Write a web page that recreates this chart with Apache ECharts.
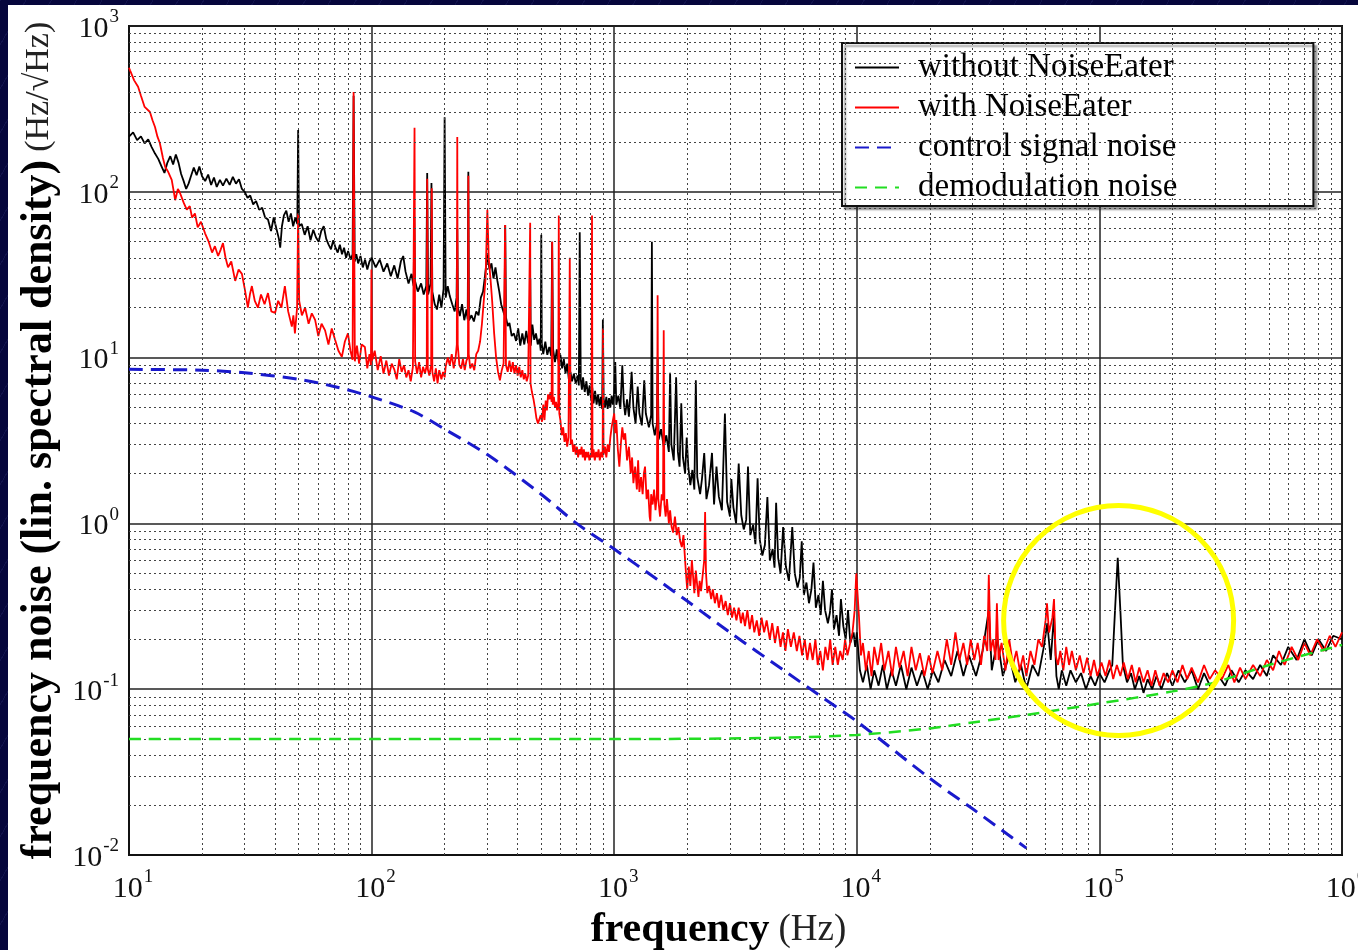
<!DOCTYPE html>
<html>
<head>
<meta charset="utf-8">
<title>Frequency noise spectrum</title>
<script src="https://cdn.jsdelivr.net/npm/echarts@6/dist/echarts.min.js"></script>
<style>
  html, body { margin: 0; padding: 0; }
  body {
    width: 1358px; height: 950px; overflow: hidden; position: relative;
    background-color: #06063c;
    background-image: repeating-linear-gradient(120deg, rgba(120,130,220,0.10) 0px, rgba(120,130,220,0.10) 1px, transparent 1px, transparent 22px);
  }
  #panel { position: absolute; left: 8px; top: 5px; width: 1350px; height: 945px; background: #fff; }
  #chart { position: absolute; left: 0; top: 0; width: 1358px; height: 950px; }
</style>
</head>
<body>
<div id="panel"></div>
<div id="chart"></div>
<script>
// Frequency noise spectra, [frequency in Hz, noise in Hz/sqrt(Hz)]
const withoutNoiseEater = [
  // 10 - 100 Hz
  [10,215],[10.4,228],[10.8,205],[11.2,216],[11.6,196],[12,207],[12.4,186],[12.8,170],[13.2,158],[13.6,143],[14,130],[14.4,150],[14.8,164],[15.2,146],[15.6,168],[16,150],[16.4,128],[16.8,116],[17.2,104],[17.6,112],[18,124],[18.5,140],[19,126],[19.5,142],[20,124],[20.6,116],[21.2,127],[21.8,110],[22.4,122],[23,107],[23.7,118],[24.4,109],[25.2,120],[26,110],[26.8,123],[27.6,112],[28.4,119],[29.2,104],[30,100],[30.8,92],[31.6,95],[32.5,84],[33.4,88],[34.4,78],[35.4,80],[36.4,70],[37.4,68],[38.5,58],[39.5,70],[40.5,60],[41.5,52],[42,46],[42.7,62],[43.5,72],[44.5,77],[45.5,66],[46.5,74],[47.5,62],[48.5,70],[49.4,64],[49.8,236],[50.2,62],[51.5,64],[53,55],[54.5,62],[56,51],[57.5,59],[59,53],[60.5,50],[62,58],[63.5,62],[65,52],[66.5,48],[68,45],[69.5,51],[71,46],[72.5,43],[74,48],[75.5,42],[77,46],[78.5,40],[80,44],[82,39],[83.5,42],[84.3,380],[85.2,38],[86.5,42],[88,37],[90,41],[92,35],[94,39],[96,34],[98,38],
  // 100 Hz - 1 kHz
  [100,40],[104,35],[108,39],[112,33],[116,37],[120,31],[124,36],[128,30],[132,38],[135,41],[138,33],[142,28],[146,32],[149,27],[150,70],[151,29],[155,25],[160,28],[164,24],[168,27],[169.5,130],[171,24],[175,28],[176.5,113],[178,25],[182,21],[186,19.5],[190,24],[194,20],[198,26],[200,282],[202,23],[206,27],[210,23.5],[215,21],[220,19],[224,23],[225.5,60],[227,20],[231,17.8],[236,21],[241,16.8],[246,19.5],[249,17],[250.5,132],[252,16.8],[258,18],[264,16.5],[270,19],[276,18],[282,23],[288,25],[294,32],[300,42],[306,34],[312,37],[318,30],[324,35],[330,29],[336,25],[342,21],[348,21],[353,18],[355.5,63],[358,17.5],[364,15.5],[370,16.2],[378,13.5],[386,14],[394,12.6],[402,15],[410,11.8],[418,14],[426,12],[434,14.5],[442,12.2],[449,13],[451,30],[453,11.8],[460,15.8],[468,12.8],[476,14],[484,12],[492,13],[498,11],[500.5,55],[503,12],[510,10.5],[520,12.5],[530,10.4],[540,11.6],[550,10.2],[555,50],[560,11.2],[570,9.4],[580,11.2],[592,9],[600,10.4],[610,8.6],[620,9.8],[630,8],[640,9.2],[650,7.4],[660,8.2],[670,7.2],[682,8],[694,7],[706,7.8],[715,6.8],[721,57],[728,7.4],[736,6.4],[744,7.6],[756,6.2],[768,7.2],[780,5.9],[792,6.8],[804,5.5],[812,6.6],[822,5.3],[834,6.3],[846,5.2],[858,6],[870,5.1],[882,5.8],[892,4.9],[898,17],[904,5.7],[916,5],[928,5.8],[940,4.9],[952,5.7],[964,5],[976,5.9],[988,5.2],
  // 1 - 10 kHz
  [1000,6.1],[1010,9.4],[1020,5.2],[1040,5.9],[1060,4.9],[1080,9],[1095,5.4],[1110,4.5],[1130,5.6],[1150,4.4],[1180,8.2],[1200,5],[1225,4],[1250,6.7],[1270,4.6],[1300,3.9],[1330,7.3],[1350,4.6],[1390,3.8],[1420,4.5],[1430,50],[1440,4],[1470,3.4],[1500,4],[1510,10],[1525,3.2],[1560,3.7],[1600,2.9],[1640,3.4],[1680,2.7],[1700,8.1],[1720,3],[1760,2.4],[1800,7.6],[1830,2.7],[1860,2.2],[1890,5.3],[1920,2.5],[1960,2],[1990,3.3],[2020,2.2],[2060,1.7],[2100,2.1],[2140,1.6],[2170,7.3],[2200,1.9],[2260,1.5],[2300,1.85],[2350,2.66],[2400,1.4],[2460,1.7],[2530,2.66],[2580,1.3],[2640,2.2],[2700,1.45],[2780,1.2],[2860,4.6],[2920,1.35],[3000,1.1],[3040,1.85],[3100,1.25],[3180,1.0],[3260,2.3],[3340,1.12],[3420,0.92],[3500,1.05],[3560,2.2],[3640,0.85],[3740,0.98],[3820,0.75],[3900,1.87],[3980,0.8],[4080,0.64],[4180,0.74],[4280,1.44],[4380,0.6],[4500,0.7],[4580,0.54],[4650,1.33],[4740,0.62],[4850,0.5],[4970,0.95],[5100,0.55],[5250,0.45],[5420,0.95],[5550,0.5],[5700,0.41],[5820,0.47],[5930,0.78],[6050,0.37],[6200,0.44],[6350,0.33],[6500,0.4],[6630,0.58],[6780,0.31],[6950,0.37],[7100,0.28],[7250,0.45],[7400,0.3],[7600,0.25],[7750,0.29],[7900,0.4],[8050,0.23],[8250,0.28],[8450,0.21],[8600,0.35],[8800,0.24],[9000,0.2],[9200,0.3],[9400,0.19],[9700,0.22],[9850,0.18],
  // 10 kHz - 1 MHz
  [10000,0.22],[10300,0.13],[10600,0.11],[11000,0.14],[11400,0.1],[11800,0.13],[12300,0.105],[12800,0.14],[13300,0.1],[13900,0.13],[14500,0.105],[15200,0.14],[16000,0.1],[16800,0.135],[17700,0.105],[18600,0.13],[19600,0.1],[20600,0.13],[21700,0.11],[23000,0.15],[24500,0.12],[26000,0.17],[27500,0.12],[29000,0.16],[31000,0.12],[33000,0.17],[35000,0.3],[36000,0.13],[38000,0.2],[40000,0.12],[42500,0.16],[45000,0.11],[47500,0.14],[50000,0.1],[53000,0.14],[56000,0.12],[59000,0.18],[61000,0.25],[63000,0.15],[65000,0.28],[66500,0.12],[68000,0.1],[70000,0.13],[73000,0.105],[76000,0.13],[80000,0.11],[84000,0.125],[88000,0.1],[92000,0.12],[96000,0.105],[100000,0.125],[105000,0.11],[110000,0.13],[113000,0.14],[116000,0.3],[119000,0.62],[122000,0.3],[125000,0.14],[130000,0.11],[135000,0.125],[140000,0.1],[146000,0.12],[152000,0.095],[158000,0.115],[165000,0.1],[172000,0.12],[180000,0.1],[190000,0.125],[200000,0.105],[212000,0.13],[225000,0.11],[240000,0.13],[255000,0.1],[270000,0.125],[290000,0.1],[310000,0.12],[330000,0.105],[350000,0.13],[375000,0.11],[400000,0.13],[430000,0.115],[460000,0.14],[490000,0.12],[520000,0.16],[560000,0.14],[600000,0.18],[650000,0.15],[700000,0.2],[750000,0.16],[800000,0.2],[860000,0.17],[920000,0.21],[1000000,0.2]
];

const withNoiseEater = [
  // 10 - 100 Hz
  [10,560],[10.1,540],[10.5,470],[10.9,430],[11.2,380],[11.6,325],[12.2,303],[12.5,270],[12.8,246],[13.1,215],[13.4,197],[13.8,160],[14.1,141],[14.5,132],[15,118],[15.3,100],[15.5,89],[15.9,104],[16.2,99],[16.8,86],[17.3,78],[17.8,82],[18.2,70],[18.7,74],[19.2,61],[19.8,66],[20.6,56],[21.3,50],[22,43],[22.6,47],[23.3,41],[23.9,45],[24.4,49],[25,40],[25.6,35],[26.4,38],[27.4,29],[28.3,34],[29.2,32],[30,26],[30.9,20],[31.5,24],[32.1,27],[33,22],[34,20],[35,24],[36.2,21],[37.4,24.5],[38.6,19],[40,18.6],[41.2,22],[42.5,20],[43.9,27],[45.3,19],[46.9,15.4],[47.6,18],[48.3,14],[49.3,20],[49.8,74],[50.3,22],[51.6,18],[53.2,20],[55,16],[56.7,18.5],[58.5,16.9],[60.3,13.5],[62.2,16],[64.3,14.6],[66.4,12],[68.5,15],[70.6,12.9],[73,11],[75.4,10.1],[77.6,12.5],[79.9,14],[81.8,11],[83.5,9.7],[84.3,400],[85.3,9.5],[87,11.8],[88.8,9.2],[91,12],[93.8,11.6],[96,8.6],[98,10.5],[99.4,9],[99.8,34],[100.4,9.6],
  // 100 Hz - 1 kHz
  [103,11],[106,8.4],[109,10.2],[112,8],[115,9.6],[118,7.8],[121,9.2],[124,8.5],[127,7.4],[130,9.8],[133,8.2],[136,9],[139,7.6],[142,8.4],[145,7.2],[148,8.8],[149.5,9],[150.3,243],[151.2,9.5],[154,8],[157,9.4],[160,7.6],[163,8.8],[166,8],[168.8,9],[169.5,120],[170.5,8.5],[173,7.8],[176,9],[177,105],[178,8.2],[181,7.2],[184,8.6],[187,7],[190,8.4],[194,7.4],[197,8.2],[200,7.6],[202,8.8],[206,10],[210,9],[214,10.5],[218,8.6],[222,10],[224.5,12],[225.5,214],[226.5,12],[230,9],[234,8.6],[238,9.8],[242,8.4],[246,9.6],[249.5,10],[250.5,125],[251.5,10.5],[255,8.6],[260,9.2],[265,8.4],[270,10.5],[275,11],[280,12.5],[285,16],[290,22],[295,30],[300,78],[304,40],[309,30],[314,22],[320,14],[326,10],[332,8.2],[338,7.3],[344,8.4],[350,9.2],[355,63],[358,9],[364,8.2],[370,9.6],[376,8.2],[382,9.4],[388,8],[394,9],[400,7.8],[406,8.8],[412,7.6],[418,8.4],[424,7.4],[430,8],[436,7.2],[442,7.8],[449,8],[450.5,65],[452,7],[458,6.2],[465,5.6],[472,4.9],[478,4.3],[485,4],[492,3.9],[498,4.5],[504,4.1],[510,5.2],[516,4.2],[522,5.5],[528,4.8],[534,6],[540,5.6],[546,6.2],[552,5.4],[555,50],[558,5.2],[564,5.8],[570,5],[576,5.4],[582,4.8],[588,5.2],[591,72],[594,4.6],[600,4.2],[608,3.4],[616,3.8],[624,3.1],[632,3.5],[640,2.9],[648,3.3],[656,40],[662,3],[670,3.2],[678,2.7],[686,3],[694,2.6],[702,2.9],[710,2.5],[718,2.8],[726,2.6],[734,2.9],[742,2.5],[750,2.8],[758,2.4],[766,2.7],[774,2.5],[782,2.7],[790,2.4],[800,2.6],[806,2.5],[810,72],[814,2.5],[822,2.8],[832,2.4],[842,2.7],[852,2.5],[862,2.8],[872,2.4],[884,2.7],[896,2.5],[900,15],[904,2.6],[916,2.9],[928,2.5],[940,3],[952,2.7],[964,3.3],[976,3.8],[988,4.2],
  // 1 - 10 kHz
  [1000,4.6],[1010,3.5],[1020,4.2],[1035,2.8],[1050,2.2],[1065,3.0],[1080,3.8],[1095,3.2],[1110,3.5],[1130,2.4],[1150,2.9],[1170,2],[1185,2.5],[1200,1.75],[1220,2.2],[1240,1.6],[1255,2.4],[1270,1.55],[1290,1.9],[1310,1.5],[1325,2.0],[1340,2.2],[1360,1.4],[1380,1.6],[1400,1.1],[1410,1.03],[1420,1.5],[1440,1.3],[1460,1.6],[1480,1.2],[1500,1.5],[1510,23.8],[1520,1.4],[1545,1.1],[1570,1.5],[1590,1.38],[1600,14.6],[1610,1.3],[1630,1.1],[1650,1.4],[1680,1.0],[1700,1.2],[1725,0.95],[1750,0.88],[1780,1.1],[1810,0.85],[1840,0.95],[1870,0.78],[1900,0.72],[1930,0.85],[1960,0.6],[1980,0.48],[2000,0.4],[2030,0.55],[2060,0.42],[2090,0.6],[2110,0.5],[2140,0.38],[2170,0.52],[2200,0.42],[2225,0.36],[2250,0.45],[2280,0.39],[2320,0.5],[2350,0.6],[2370,1.17],[2390,0.5],[2420,0.38],[2460,0.42],[2510,0.35],[2550,0.4],[2600,0.33],[2650,0.38],[2700,0.31],[2760,0.37],[2820,0.3],[2880,0.34],[2940,0.28],[3000,0.33],[3060,0.27],[3120,0.31],[3190,0.26],[3260,0.31],[3330,0.25],[3390,0.29],[3460,0.24],[3540,0.3],[3620,0.23],[3700,0.28],[3780,0.22],[3870,0.26],[3960,0.21],[4050,0.27],[4150,0.22],[4250,0.26],[4380,0.2],[4480,0.25],[4600,0.19],[4720,0.24],[4850,0.18],[4960,0.22],[5080,0.17],[5200,0.23],[5350,0.18],[5500,0.22],[5660,0.17],[5800,0.21],[5950,0.16],[6100,0.2],[6250,0.15],[6410,0.19],[6580,0.15],[6750,0.2],[6900,0.14],[7070,0.17],[7250,0.13],[7420,0.18],[7600,0.15],[7770,0.2],[7950,0.14],[8150,0.18],[8350,0.14],[8540,0.17],[8750,0.15],[8950,0.2],[9150,0.16],[9390,0.19],[9600,0.22],[9800,0.3],[9950,0.5],
  // 10 kHz - 1 MHz
  [10000,0.5],[10200,0.28],[10400,0.16],[10600,0.19],[10900,0.13],[11200,0.17],[11500,0.12],[11800,0.18],[12200,0.14],[12600,0.19],[13000,0.13],[13500,0.17],[14000,0.12],[14500,0.18],[15000,0.135],[15600,0.17],[16200,0.12],[16800,0.18],[17500,0.13],[18200,0.165],[19000,0.12],[19800,0.16],[20500,0.125],[21500,0.17],[22500,0.13],[23500,0.2],[24500,0.14],[25500,0.22],[26500,0.15],[27500,0.19],[28500,0.14],[29500,0.2],[30500,0.15],[31500,0.19],[32500,0.14],[33500,0.21],[34500,0.17],[35000,0.49],[35600,0.17],[36500,0.2],[37300,0.15],[37800,0.33],[38400,0.15],[39500,0.19],[41000,0.13],[42500,0.2],[44000,0.14],[45500,0.17],[47000,0.13],[48500,0.16],[50000,0.12],[52000,0.17],[54000,0.14],[56000,0.2],[58000,0.18],[60000,0.26],[60800,0.33],[62000,0.22],[64000,0.27],[65000,0.35],[66000,0.16],[67500,0.14],[69000,0.17],[71000,0.13],[73000,0.18],[75000,0.14],[77000,0.17],[80000,0.13],[83000,0.16],[86000,0.125],[89000,0.155],[92000,0.12],[95000,0.15],[98000,0.12],[102000,0.145],[106000,0.12],[110000,0.15],[114000,0.115],[118000,0.14],[122000,0.12],[126000,0.145],[131000,0.115],[136000,0.14],[141000,0.11],[146000,0.135],[152000,0.11],[158000,0.13],[164000,0.105],[170000,0.13],[177000,0.105],[184000,0.125],[192000,0.11],[200000,0.13],[210000,0.11],[220000,0.14],[230000,0.115],[240000,0.135],[255000,0.11],[270000,0.14],[285000,0.115],[300000,0.13],[320000,0.115],[340000,0.14],[360000,0.11],[380000,0.135],[400000,0.115],[430000,0.14],[460000,0.12],[490000,0.15],[520000,0.13],[550000,0.17],[580000,0.14],[620000,0.18],[660000,0.15],[700000,0.19],[740000,0.16],[790000,0.2],[840000,0.17],[890000,0.21],[940000,0.18],[1000000,0.22]
];

// Modelled noise contributions
const controlSignalNoise = [
  [10,8.5],[20,8.4],[30,8.1],[50,7.4],[70,6.7],[100,5.8],[150,4.7],[200,3.7],[300,2.6],[500,1.5],[700,1.0],
  [1000,0.70],[1500,0.46],[2000,0.34],[3000,0.22],[5000,0.13],[7000,0.092],[10000,0.064],[20000,0.029],[30000,0.019],[50000,0.011]
];
const demodulationNoise = [
  [10,0.05],[100,0.05],[1000,0.05],[5000,0.051],[10000,0.053],[20000,0.058],[30000,0.063],[50000,0.07],
  [100000,0.082],[200000,0.097],[300000,0.11],[500000,0.14],[1000000,0.185]
];

const seriesNames = ['without NoiseEater', 'with NoiseEater', 'control signal noise', 'demodulation noise'];
const decadeMantissas = [2, 3, 4, 5, 6, 7, 8, 9];
const xDecades = [10, 100, 1000, 10000, 100000];
const yDecades = [0.01, 0.1, 1, 10, 100];
const highlightCenter = [1.2e5, 0.26];   // marked resonance region
const SERIF = "'Liberation Serif', 'DejaVu Serif', serif";

// Minor (2..9) grid lines of each decade
const minorX = [];
xDecades.forEach(d => decadeMantissas.forEach(m => minorX.push({ xAxis: m * d })));
const minorY = [];
yDecades.forEach(d => decadeMantissas.forEach(m => minorY.push({ yAxis: +(m * d).toPrecision(3) })));

function powLabel(v) {
  const e = Math.round(Math.log10(v));
  return '{b|10}{s|' + e + '}';
}
const tickRich = {
  b: { fontFamily: SERIF, fontSize: 30, color: '#111', lineHeight: 36, verticalAlign: 'bottom' },
  s: { fontFamily: SERIF, fontSize: 19, color: '#111', lineHeight: 36, verticalAlign: 'top', padding: [0, 0, 0, 1] }
};

const chart = echarts.init(document.getElementById('chart'), null, { renderer: 'canvas' });
chart.setOption({
  animation: false,
  backgroundColor: 'transparent',
  grid: {
    left: 129, right: 16, top: 26, bottom: 95,
    outerBoundsMode: 'none', containLabel: false,
    show: true, backgroundColor: '#fff', borderColor: '#111', borderWidth: 2
  },
  legend: {
    data: seriesNames,
    orient: 'vertical',
    left: 842, top: 43,
    padding: [8, 136, 2, 12],
    itemWidth: 44, itemHeight: 14, itemGap: 7,
    backgroundColor: '#fff',
    borderColor: '#111', borderWidth: 2,
    shadowColor: 'rgba(0,0,0,0.35)', shadowBlur: 2, shadowOffsetX: 3, shadowOffsetY: 3,
    itemStyle: { opacity: 0 },
    textStyle: { fontFamily: SERIF, fontSize: 33, color: '#000', lineHeight: 33, padding: [0, 0, 0, 14] }
  },
  xAxis: {
    type: 'log', logBase: 10, min: 10, max: 1e6,
    name: '{b|frequency}{r|(Hz)}',
    nameLocation: 'middle', nameGap: 52,
    nameTextStyle: {
      padding: [0, 34, 0, 0],
      rich: {
        b: { fontFamily: SERIF, fontWeight: 'bold', fontSize: 42, color: '#000' },
        r: { fontFamily: SERIF, fontSize: 37, color: '#222', padding: [0, 0, 0, 9] }
      }
    },
    axisLine: { show: true, lineStyle: { color: '#111', width: 2 } },
    axisTick: { show: false },
    axisLabel: { formatter: powLabel, rich: tickRich, margin: 13, padding: [0, 0, 0, 8] },
    splitLine: { show: true, lineStyle: { color: '#222', width: 1.5 } },
    minorTick: { show: false }, minorSplitLine: { show: false }
  },
  yAxis: {
    type: 'log', logBase: 10, min: 0.01, max: 1000,
    name: '{b|frequency noise (lin. spectral density)}{r|(Hz/\u221AHz)}',
    nameLocation: 'middle', nameGap: 67, nameRotate: 90,
    nameTextStyle: {
      rich: {
        b: { fontFamily: SERIF, fontWeight: 'bold', fontSize: 44, color: '#000' },
        r: { fontFamily: SERIF, fontSize: 34, color: '#222', padding: [0, 0, 0, 8] }
      }
    },
    axisLine: { show: true, lineStyle: { color: '#111', width: 2 } },
    axisTick: { show: false },
    axisLabel: { formatter: powLabel, rich: tickRich, margin: 10 },
    splitLine: { show: true, lineStyle: { color: '#222', width: 1.5 } },
    minorTick: { show: false }, minorSplitLine: { show: false }
  },
  series: [
    {
      name: 'minor grid', type: 'line', data: [], z: 1, silent: true,
      markLine: {
        silent: true, symbol: ['none', 'none'], label: { show: false },
        lineStyle: { color: '#444', type: [2, 3], width: 1 },
        emphasis: { disabled: true },
        data: minorX.concat(minorY)
      }
    },
    {
      name: seriesNames[0], type: 'line', data: withoutNoiseEater, z: 3,
      showSymbol: false, symbol: 'none',
      lineStyle: { color: '#000', width: 1.8 }, itemStyle: { color: '#000' }
    },
    {
      name: seriesNames[1], type: 'line', data: withNoiseEater, z: 4,
      showSymbol: false, symbol: 'none',
      lineStyle: { color: '#ff0000', width: 1.8 }, itemStyle: { color: '#ff0000' }
    },
    {
      name: seriesNames[2], type: 'line', data: controlSignalNoise, z: 5, smooth: 0.3,
      showSymbol: false, symbol: 'none',
      lineStyle: { color: '#1a1acc', width: 3, type: [14, 8] }, itemStyle: { color: '#1a1acc' }
    },
    {
      name: seriesNames[3], type: 'line', data: demodulationNoise, z: 5, smooth: 0.3,
      showSymbol: false, symbol: 'none',
      lineStyle: { color: '#22dd22', width: 2.5, type: [12, 8] }, itemStyle: { color: '#22dd22' }
    }
  ]
});

// Yellow ring around the resonance near 120 kHz
const c = chart.convertToPixel({ xAxisIndex: 0, yAxisIndex: 0 }, highlightCenter);
chart.setOption({
  graphic: [{
    type: 'circle', silent: true, z: 100,
    shape: { cx: c[0], cy: c[1], r: 115 },
    style: { fill: 'none', stroke: '#ffff00', lineWidth: 5 }
  }]
});
</script>
</body>
</html>
